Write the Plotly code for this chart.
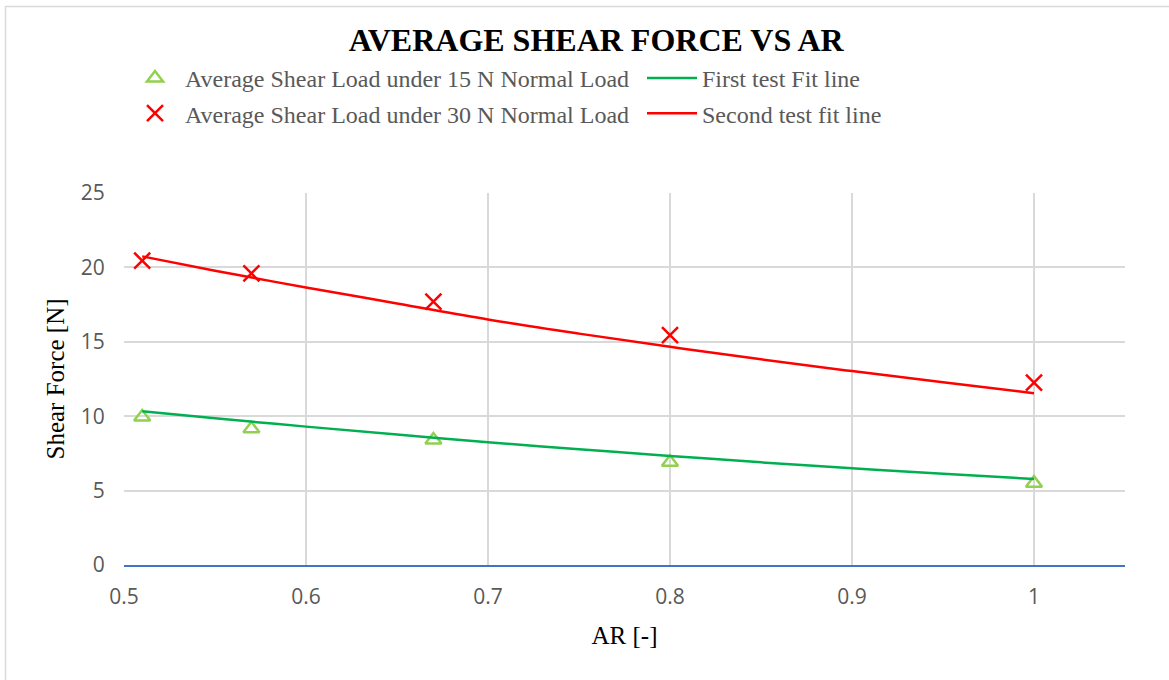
import plotly.graph_objects as go

# ---- data ----
ar = [0.51, 0.57, 0.67, 0.8, 1.0]
shear_15n = [9.95, 9.15, 8.4, 6.9, 5.5]
shear_30n = [20.45, 19.6, 17.7, 15.45, 12.25]

fit_x = [0.51, 0.55, 0.6, 0.65, 0.7, 0.75, 0.8, 0.85, 0.9, 0.95, 1.0]
fit_15n = [10.33, 9.86, 9.3, 8.77, 8.25, 7.78, 7.33, 6.9, 6.5, 6.13, 5.78]
fit_30n = [20.74, 19.78, 18.65, 17.58, 16.5, 15.55, 14.66, 13.82, 13.03, 12.28, 11.55]

x_ticks = [0.5, 0.6, 0.7, 0.8, 0.9, 1.0]
x_tick_text = ["0.5", "0.6", "0.7", "0.8", "0.9", "1"]
y_ticks = [0, 5, 10, 15, 20, 25]

title_text = "AVERAGE SHEAR FORCE VS AR"
x_title = "AR [-]"
y_title = "Shear Force [N]"
names = ["Average Shear Load under 15 N Normal Load",
         "Average Shear Load under 30 N Normal Load",
         "First test Fit line",
         "Second test fit line"]

SERIF = "Liberation Serif, Times New Roman, serif"
SANS = "Open Sans, Liberation Sans, sans-serif"
GREY = "#595959"

fig = go.Figure()
fig.add_trace(go.Scatter(
    x=ar, y=shear_15n, mode="markers", name=names[0], legend="legend",
    legendgroup="a",
    marker=dict(symbol="triangle-up-open", size=14, color="#92D050",
                line=dict(color="#92D050", width=2.5)),
    cliponaxis=False))
fig.add_trace(go.Scatter(
    x=ar, y=shear_30n, mode="markers", name=names[1], legend="legend",
    legendgroup="b",
    marker=dict(symbol="x-thin-open", size=16, color="#FF0000",
                line=dict(color="#FF0000", width=2.5)),
    cliponaxis=False))
fig.add_trace(go.Scatter(
    x=fit_x, y=fit_15n, mode="lines", name=names[2], legend="legend2",
    legendgroup="c", line=dict(color="#00B050", width=2.5, shape="spline")))
fig.add_trace(go.Scatter(
    x=fit_x, y=fit_30n, mode="lines", name=names[3], legend="legend2",
    legendgroup="d", line=dict(color="#FF0000", width=2.5, shape="spline")))

leg_common = dict(font=dict(family=SERIF, size=24, color=GREY),
                  bgcolor="rgba(0,0,0,0)", borderwidth=0,
                  orientation="v", yanchor="middle", xanchor="left",
                  tracegroupgap=1, traceorder="grouped", itemwidth=50)

fig.update_layout(
    width=1169, height=680,
    margin=dict(l=124, r=44, t=193, b=115),
    paper_bgcolor="white", plot_bgcolor="white",
    title=dict(text="<b>" + title_text + "</b>", x=0.51, xanchor="center",
               y=1 - 40 / 680, yanchor="middle",
               font=dict(family=SERIF, size=32, color="black")),
    legend=dict(x=(125 - 124) / 1001, y=1.261, **leg_common),
    legend2=dict(x=(642 - 124) / 1001, y=1.261, **leg_common),
    xaxis=dict(range=[0.5, 1.05], tickvals=x_ticks, ticktext=x_tick_text,
               showgrid=True, gridcolor="#D9D9D9", gridwidth=1.5,
               zeroline=False, showline=True, linecolor="#4472C4",
               linewidth=2, ticks="outside", ticklen=12,
               tickcolor="rgba(0,0,0,0)",
               tickfont=dict(family=SANS, size=21, color=GREY),
               title=dict(text=x_title, standoff=17,
                          font=dict(family=SERIF, size=25, color="black"))),
    yaxis=dict(range=[0, 25], tickvals=y_ticks,
               showgrid=True, gridcolor="#D9D9D9", gridwidth=1.5,
               zeroline=False, showline=False,
               ticks="outside", ticklen=14, tickcolor="rgba(0,0,0,0)",
               tickfont=dict(family=SANS, size=21, color=GREY),
               title=dict(text=y_title, standoff=9,
                          font=dict(family=SERIF, size=25, color="black"))),
    shapes=[dict(type="rect", xref="paper", yref="paper",
                 x0=(5.5 - 124) / 1001, x1=1.1, y0=-0.4,
                 y1=(565 - 6.5) / 372,
                 line=dict(color="#D9D9D9", width=1.5),
                 fillcolor="rgba(0,0,0,0)", layer="below")],
)

fig.write_html("out.html")
